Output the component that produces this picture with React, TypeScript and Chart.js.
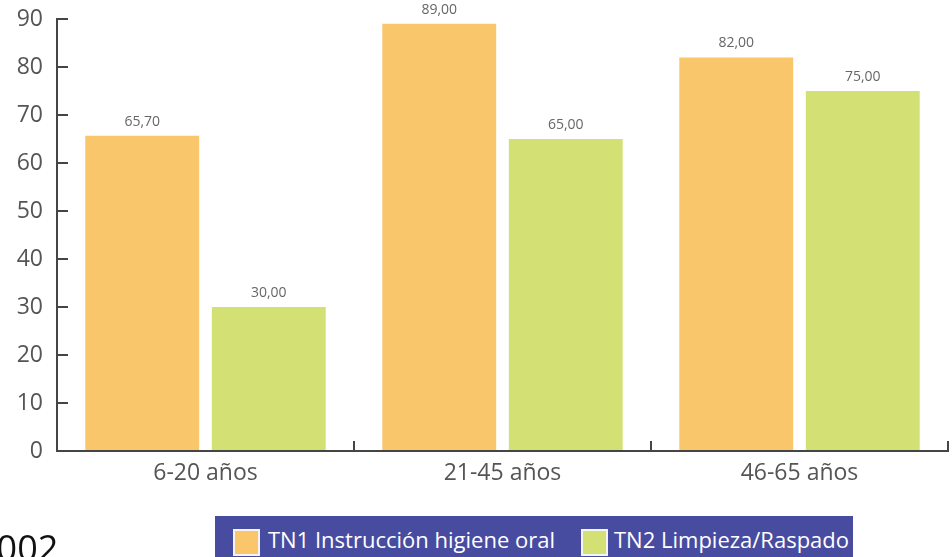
import React, { useEffect, useRef } from "react";
import { Chart, registerables } from "chart.js";

Chart.register(...registerables);

const categories = ["6-20 años", "21-45 años", "46-65 años"];
const seriesNames = ["TN1 Instrucción higiene oral", "TN2 Limpieza/Raspado"];
const tn1Values = [65.7, 89, 82];
const tn2Values = [30, 65, 75];
const yMin = 0;
const yMax = 90;
const yStep = 10;
const footnoteText = "2002";

const ORANGE = "#F9C66B";
const GREEN = "#D3E174";
const AXIS = "#454545";
const TEXT = "#555555";
const FONT = "'Open Sans', 'Noto Sans', sans-serif";

const valueLabels = {
  id: "valueLabels",
  afterDatasetsDraw(chart: any) {
    const ctx = chart.ctx;
    ctx.save();
    ctx.font = `14px ${FONT}`;
    ctx.fillStyle = "#666666";
    ctx.textAlign = "center";
    ctx.textBaseline = "bottom";
    chart.data.datasets.forEach((ds: any, i: number) => {
      const meta = chart.getDatasetMeta(i);
      meta.data.forEach((bar: any, j: number) => {
        const v = Number(ds.data[j]);
        ctx.fillText(v.toFixed(2).replace(".", ","), bar.x, bar.y - 7);
      });
    });
    ctx.restore();
  },
};

export default function App() {
  const canvasRef = useRef<HTMLCanvasElement | null>(null);

  useEffect(() => {
    if (!canvasRef.current) return;
    const chart = new Chart(canvasRef.current, {
      type: "bar",
      data: {
        labels: categories,
        datasets: [
          {
            label: seriesNames[0],
            data: tn1Values,
            backgroundColor: ORANGE,
            borderWidth: 0,
            barPercentage: 0.9,
            categoryPercentage: 0.852,
          },
          {
            label: seriesNames[1],
            data: tn2Values,
            backgroundColor: GREEN,
            borderWidth: 0,
            barPercentage: 0.9,
            categoryPercentage: 0.852,
          },
        ],
      },
      options: {
        responsive: false,
        animation: false,
        devicePixelRatio: 1,
        layout: { autoPadding: false, padding: { top: 19, right: 4, left: 0, bottom: 0 } },
        plugins: {
          legend: { display: false },
          tooltip: { enabled: false },
        },
        scales: {
          x: {
            offset: true,
            grid: {
              display: true,
              offset: true,
              drawOnChartArea: false,
              drawTicks: true,
              tickLength: -10,
              color: AXIS,
              lineWidth: 2,
            },
            border: { display: true, color: AXIS, width: 2 },
            ticks: {
              padding: 19,
              color: TEXT,
              font: { size: 23, family: FONT },
            },
            afterFit: (s: any) => {
              s.height = 106;
              s.paddingLeft = 0;
              s.paddingRight = 0;
            },
          },
          y: {
            min: yMin,
            max: yMax,
            ticks: {
              stepSize: yStep,
              padding: 25,
              color: TEXT,
              font: { size: 23, family: FONT },
            },
            grid: {
              drawOnChartArea: false,
              drawTicks: true,
              tickLength: -11,
              color: AXIS,
              lineWidth: 2,
            },
            border: { display: true, color: AXIS, width: 2 },
            afterFit: (s: any) => {
              s.width = 57;
              s.paddingTop = 0;
              s.paddingBottom = 0;
            },
          },
        },
      },
      plugins: [valueLabels],
    });
    return () => chart.destroy();
  }, []);

  const swatch = (color: string): React.CSSProperties => ({
    position: "absolute",
    top: 13,
    width: 27,
    height: 27,
    boxSizing: "border-box",
    border: "2px solid #f4f4f4",
    background: color,
  });
  const legendText: React.CSSProperties = {
    position: "absolute",
    top: 7,
    color: "#ffffff",
    fontFamily: FONT,
    fontSize: 22,
    lineHeight: "32px",
    whiteSpace: "nowrap",
  };

  return (
    <div
      style={{
        position: "absolute",
        left: 0,
        top: 0,
        width: 952,
        height: 557,
        overflow: "hidden",
        background: "#ffffff",
      }}
    >
      <canvas ref={canvasRef} width={952} height={557} style={{ display: "block" }} />
      <div
        style={{
          position: "absolute",
          left: 215,
          top: 516,
          width: 638,
          height: 50,
          background: "#484CA0",
        }}
      >
        <div style={{ ...swatch(ORANGE), left: 18 }} />
        <div style={{ ...legendText, left: 53 }}>{seriesNames[0]}</div>
        <div style={{ ...swatch(GREEN), left: 366 }} />
        <div style={{ ...legendText, left: 399 }}>{seriesNames[1]}</div>
      </div>
      <div
        style={{
          position: "absolute",
          left: -24,
          top: 528,
          fontFamily: FONT,
          fontSize: 36,
          lineHeight: "40px",
          color: "#111111",
          whiteSpace: "nowrap",
        }}
      >
        {footnoteText}
      </div>
    </div>
  );
}
